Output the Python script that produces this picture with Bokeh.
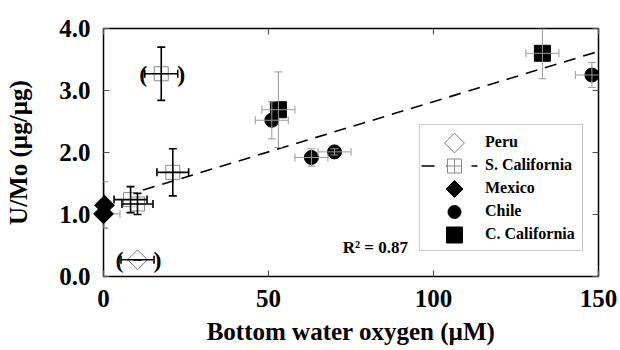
from math import pi

from bokeh.core.properties import value
from bokeh.embed import file_html
from bokeh.models import (ColumnDataSource, FixedTicker, Legend, LegendItem, LinearAxis,
                          PrintfTickFormatter, Range1d, TeeHead, Whisker)
from bokeh.plotting import figure
from bokeh.resources import INLINE

# Bottom water oxygen (uM) and U/Mo ratio (ug/ug), with 1-sigma errors
peru_x = [10.3]
peru_y = [0.27]
peru_xerr = [5.0]
peru_yerr = [0.0]

scal_x = [17.5, 21.0, 8.2, 10.3]
scal_y = [3.27, 1.68, 1.24, 1.17]
scal_xerr = [5.0, 4.8, 5.0, 4.7]
scal_yerr = [0.43, 0.38, 0.21, 0.17]

mex_x = [0.3, 0.0]
mex_y = [1.15, 1.01]
mex_xerr = [0.0, 5.0]
mex_yerr = [0.38, 0.22]

chile_x = [51.0, 63.0, 70.0, 148.0]
chile_y = [2.52, 1.92, 2.01, 3.25]
chile_xerr = [5.0, 5.0, 5.0, 5.0]
chile_yerr = [0.30, 0.14, 0.05, 0.20]

ccal_x = [53.0, 133.0]
ccal_y = [2.69, 3.60]
ccal_xerr = [5.0, 5.0]
ccal_yerr = [0.61, 0.41]

# points shown in parentheses (excluded from the fit)
paren_x = [peru_x[0], scal_x[0]]
paren_y = [peru_y[0], scal_y[0]]

# linear fit through the remaining points
fit_slope = 0.0162
fit_intercept = 1.2
fit_x = [12.0, 150.0]
r_squared = 0.87

x_ticks = [0, 50, 100, 150]
y_ticks = [0, 1, 2, 3, 4]

legend_labels = ["Peru", "S. California", "Mexico", "Chile", "C. California"]

SERIF = "Liberation Serif"
GRAY = "#9a9a9a"

W, H = 620, 350
BORDER_L, BORDER_R, BORDER_T, BORDER_B = 103, 22, 28, 74
FRAME_W = W - BORDER_L - BORDER_R
FRAME_H = H - BORDER_T - BORDER_B

p = figure(width=W, height=H, output_backend="svg", toolbar_location=None,
           x_range=Range1d(0, 150), y_range=Range1d(0, 4),
           min_border_left=BORDER_L, min_border_right=BORDER_R,
           min_border_top=BORDER_T, min_border_bottom=BORDER_B,
           background_fill_color="white", border_fill_color="white")
p.grid.visible = False
p.outline_line_color = "black"
p.outline_line_width = 1.5

# pixel ranges over the frame (y downward) for placing legend symbols
p.extra_x_ranges = {"px": Range1d(0, FRAME_W)}
p.extra_y_ranges = {"px": Range1d(FRAME_H, 0)}


def style_axis(ax, labels=True):
    ax.axis_line_color = None
    ax.major_tick_in = 6
    ax.major_tick_out = 0
    ax.major_tick_line_color = "#555555"
    ax.major_tick_line_width = 1.2
    ax.minor_tick_line_color = None
    ax.major_label_text_font = SERIF
    ax.major_label_text_font_style = "bold"
    ax.major_label_text_font_size = "25px"
    ax.major_label_text_color = "black"
    ax.axis_label_text_font = SERIF
    ax.axis_label_text_font_style = "bold"
    ax.axis_label_text_font_size = "25px"
    ax.axis_label_text_color = "black"
    if not labels:
        ax.major_label_overrides = {t: "" for t in ax.ticker.ticks}


xa = p.xaxis[0]
ya = p.yaxis[0]
xa.ticker = FixedTicker(ticks=x_ticks)
ya.ticker = FixedTicker(ticks=y_ticks)
xa.formatter = PrintfTickFormatter(format="%d")
ya.formatter = PrintfTickFormatter(format="%.1f")
style_axis(xa)
style_axis(ya)
xa.axis_label = "Bottom water oxygen (µM)"
ya.axis_label = "U/Mo (µg/µg)"
xa.major_label_standoff = 13
ya.major_label_standoff = 13
xa.axis_label_standoff = 8
ya.axis_label_standoff = 24

top = LinearAxis(ticker=FixedTicker(ticks=x_ticks))
right = LinearAxis(ticker=FixedTicker(ticks=y_ticks))
style_axis(top, labels=False)
style_axis(right, labels=False)
p.add_layout(top, "above")
p.add_layout(right, "right")


def error_bars(xs, ys, xerr, yerr, color, width, cap):
    src = ColumnDataSource(dict(
        x=xs, y=ys,
        xl=[x - e for x, e in zip(xs, xerr)], xu=[x + e for x, e in zip(xs, xerr)],
        yl=[y - e for y, e in zip(ys, yerr)], yu=[y + e for y, e in zip(ys, yerr)],
    ))
    for dim, base, lo, hi in (("width", "y", "xl", "xu"), ("height", "x", "yl", "yu")):
        w = Whisker(source=src, base=base, lower=lo, upper=hi, dimension=dim,
                    line_color=color, line_width=width, level="glyph",
                    lower_head=TeeHead(size=cap, line_color=color, line_width=width),
                    upper_head=TeeHead(size=cap, line_color=color, line_width=width))
        p.add_layout(w)


error_bars(mex_x, mex_y, mex_xerr, mex_yerr, GRAY, 1.0, 8)
error_bars(chile_x, chile_y, chile_xerr, chile_yerr, GRAY, 1.0, 8)
error_bars(ccal_x, ccal_y, ccal_xerr, ccal_yerr, GRAY, 1.0, 8)
error_bars(scal_x, scal_y, scal_xerr, scal_yerr, "black", 1.6, 8)
error_bars(peru_x, peru_y, peru_xerr, peru_yerr, "black", 1.6, 8)

# regression line
FIT_STYLE = dict(line_color="black", line_width=1.6, line_dash="12 8")
fit_y = [fit_intercept + fit_slope * x for x in fit_x]
p.line(fit_x, fit_y, **FIT_STYLE)

PERU_STYLE = dict(marker="square", size=14, angle=pi / 4,
                  fill_color="white", line_color="#777777", line_width=1.0)
SCAL_STYLE = dict(marker="square_cross", size=14,
                  fill_color="white", fill_alpha=0.6, line_color="#8a8a8a", line_width=1.0)
MEX_STYLE = dict(marker="square", size=14, angle=pi / 4,
                 fill_color="black", line_color="black")
CHILE_STYLE = dict(marker="circle", size=14, fill_color="black", line_color="black")
CCAL_STYLE = dict(marker="square", size=16, fill_color="black", line_color="black")

p.scatter(peru_x, peru_y, **PERU_STYLE)
p.scatter(scal_x, scal_y, **SCAL_STYLE)
p.scatter(mex_x, mex_y, level="overlay", **MEX_STYLE)
p.scatter(chile_x, chile_y, **CHILE_STYLE)
p.scatter(ccal_x, ccal_y, **CCAL_STYLE)

# parentheses around the excluded points
p.text(paren_x, paren_y, text=["("] * 2, x_offset=-18, text_align="center",
       text_baseline="middle", text_font=value(SERIF), text_font_style="bold",
       text_font_size="24px", text_color="black")
p.text(paren_x, paren_y, text=[")"] * 2, x_offset=20, text_align="center",
       text_baseline="middle", text_font=value(SERIF), text_font_style="bold",
       text_font_size="24px", text_color="black")

p.text([72.5], [0.47], text=["R² = %.2f" % r_squared], text_align="left", text_baseline="middle",
       text_font=value(SERIF), text_font_style="bold", text_font_size="17px",
       text_color="black")

# Legend: Bokeh's legend supplies the box and labels; its own symbols are blank
# (it cannot rotate markers or keep their size), and the symbols are drawn
# beneath the transparent box in frame-pixel coordinates instead.
blank = p.scatter([], [], marker="square", size=14, fill_alpha=0, line_alpha=0)

LEG_X, LEG_Y = 316, 25          # offset of the legend box from the frame's bottom-left
LEG_PAD, LEG_GLYPH_W, LEG_ROW, LEG_SPACING = 7, 50, 19, 4

legend = Legend(items=[LegendItem(label=lab, renderers=[blank]) for lab in legend_labels],
                location=(LEG_X, LEG_Y))
legend.label_text_font = SERIF
legend.label_text_font_style = "bold"
legend.label_text_font_size = "16px"
legend.label_text_color = "black"
legend.glyph_width = LEG_GLYPH_W
legend.glyph_height = LEG_ROW
legend.label_height = LEG_ROW
legend.label_standoff = 8
legend.spacing = LEG_SPACING
legend.padding = LEG_PAD
legend.margin = 0
legend.border_line_color = "#9a9a9a"
legend.border_line_width = 1
legend.background_fill_alpha = 0.0
p.add_layout(legend, "center")

n_items = len(legend_labels)
leg_h = 2 * LEG_PAD + n_items * LEG_ROW + (n_items - 1) * LEG_SPACING
leg_top = FRAME_H - LEG_Y - leg_h            # from the frame's top edge
sym_x = LEG_X + LEG_PAD + LEG_GLYPH_W / 2 + 3


def row_center(i):
    return leg_top + LEG_PAD + LEG_ROW / 2 + i * (LEG_ROW + LEG_SPACING)


px = dict(x_range_name="px", y_range_name="px")
p.scatter([sym_x], [row_center(0)], **px, **PERU_STYLE)
p.line([sym_x - 33, sym_x + 23], [row_center(1)] * 2, **px,
       **dict(FIT_STYLE, line_dash="13 12"))
p.scatter([sym_x], [row_center(1)], **px, **dict(SCAL_STYLE, fill_alpha=1.0))
p.scatter([sym_x], [row_center(2)], **px, **dict(MEX_STYLE, size=12))
p.scatter([sym_x], [row_center(3)], **px, **dict(CHILE_STYLE, size=13))
p.scatter([sym_x], [row_center(4)], **px, **CCAL_STYLE)

open("out.html", "w").write(file_html(p, INLINE))
